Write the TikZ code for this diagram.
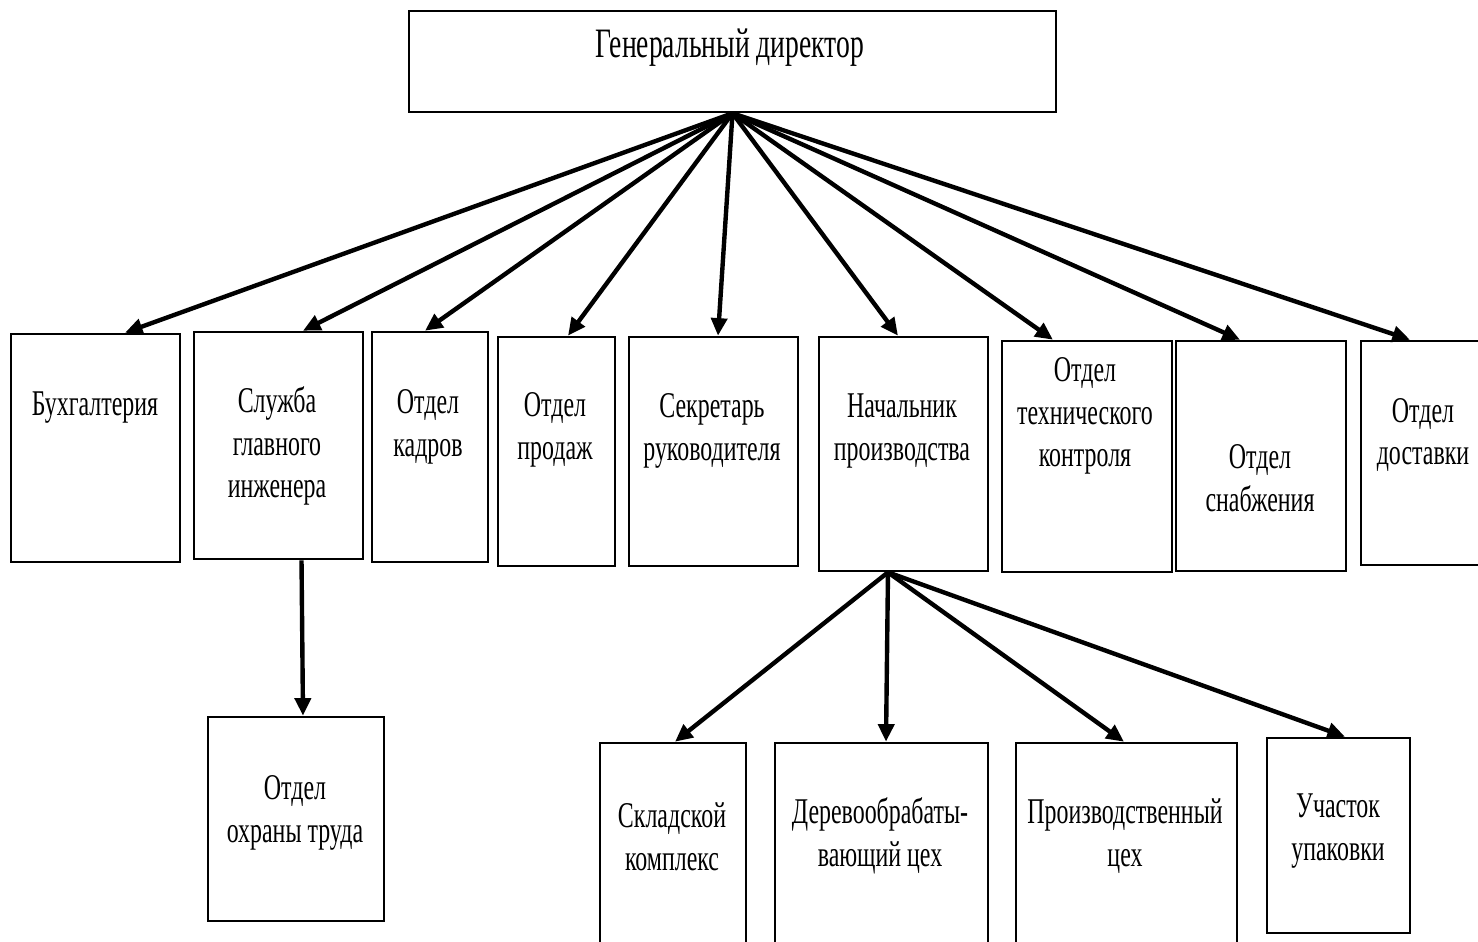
\documentclass[tikz,border=0pt]{standalone}
\usepackage{fontspec}
\setmainfont{Liberation Serif}[FakeStretch=0.66]
\usetikzlibrary{arrows.meta}
\begin{document}
\begin{tikzpicture}[x=0.01cm, y=-0.01cm,
  box/.style={draw, line width=0.7pt, inner sep=0pt},
  lbl/.style={align=center, inner sep=0pt, font=\fontsize{10.3}{12.1}\selectfont},
  arr/.style={line width=1.25pt, -{Triangle[length=5pt, width=4.5pt]}}]
\useasboundingbox (0,0) rectangle (1478,941);
% director
\node[box, minimum width=6.47cm, minimum height=1.01cm] (dir) at (732.5,61.5){};
\node[lbl, font=\fontsize{11.9}{14}\selectfont] (tdir) at (730,48){Генеральный директор};
% first row
\node[box, minimum width=1.69cm, minimum height=2.28cm] (buh) at (95.5,448){};
\node[lbl] (tbuh) at (95,408){Бухгалтерия};
\node[box, minimum width=1.69cm, minimum height=2.27cm] (sgi) at (278.5,445.5){};
\node[lbl] (tsgi) at (277,446){Служба\\главного\\инженера};
\node[box, minimum width=1.16cm, minimum height=2.30cm] (kadr) at (430,447){};
\node[lbl] (tkadr) at (428,427){Отдел\\кадров};
\node[box, minimum width=1.17cm, minimum height=2.29cm] (prod) at (556.5,451.5){};
\node[lbl] (tprod) at (555,430){Отдел\\продаж};
\node[box, minimum width=1.69cm, minimum height=2.29cm] (sekr) at (713.5,451.5){};
\node[lbl] (tsekr) at (712,431){Секретарь\\руководителя};
\node[box, minimum width=1.69cm, minimum height=2.34cm] (nach) at (903.5,454){};
\node[lbl] (tnach) at (902,431){Начальник\\производства};
\node[box, minimum width=1.70cm, minimum height=2.31cm] (otk) at (1087,456.5){};
\node[lbl] (totk) at (1085,416){Отдел\\технического\\контроля};
\node[box, minimum width=1.70cm, minimum height=2.30cm] (snab) at (1261,456){};
\node[lbl] (tsnab) at (1260,478){Отдел\\снабжения};
\node[box, minimum width=1.40cm, minimum height=2.24cm] (dost) at (1431,453){};
\node[lbl] (tdost) at (1423,435){Отдел\\доставки};
% second row
\node[box, minimum width=1.76cm, minimum height=2.04cm] (ohr) at (296,819){};
\node[lbl] (tohr) at (295,813){Отдел\\охраны труда};
\node[box, minimum width=1.46cm, minimum height=2.02cm] (sklad) at (673,844){};
\node[lbl] (tsklad) at (672,837){Складской\\комплекс};
\node[box, minimum width=2.13cm, minimum height=2.02cm] (derevo) at (881.5,844){};
\node[lbl] (tderevo) at (880,836){Деревообрабаты-\\вающий цех};
\node[box, minimum width=2.21cm, minimum height=2.02cm] (proizv) at (1126.5,844){};
\node[lbl] (tproizv) at (1125,836){Производственный\\цех};
\node[box, minimum width=1.43cm, minimum height=1.95cm] (upak) at (1338.5,835.5){};
\node[lbl] (tupak) at (1338,831){Участок\\упаковки};
% arrows
\draw[arr](dir.south) -- ([xshift=2.95mm]buh.north);
\draw[arr](dir.south) -- ([xshift=2.45mm]sgi.north);
\draw[arr](dir.south) -- ([xshift=-0.5mm]kadr.north);
\draw[arr](dir.south) -- ([xshift=1.15mm]prod.north);
\draw[arr](dir.south) -- ([xshift=0.45mm]sekr.north);
\draw[arr](dir.south) -- ([xshift=-0.55mm]nach.north);
\draw[arr](dir.south) -- ([xshift=-3.4mm]otk.north);
\draw[arr](dir.south) -- ([xshift=-2.1mm]snab.north);
\draw[arr](dir.south) -- ([xshift=-2.1mm]dost.north);
\draw[arr]([xshift=2.3mm]sgi.south) -- ([xshift=0.7mm]ohr.north);
\draw[arr]([xshift=-1.55mm]nach.south) -- ([xshift=0.2mm]sklad.north);
\draw[arr]([xshift=-1.55mm]nach.south) -- ([xshift=0.45mm]derevo.north);
\draw[arr]([xshift=-1.55mm]nach.south) -- ([xshift=-0.25mm]proizv.north);
\draw[arr]([xshift=-1.55mm]nach.south) -- ([xshift=0.65mm]upak.north);
\end{tikzpicture}
\end{document}
